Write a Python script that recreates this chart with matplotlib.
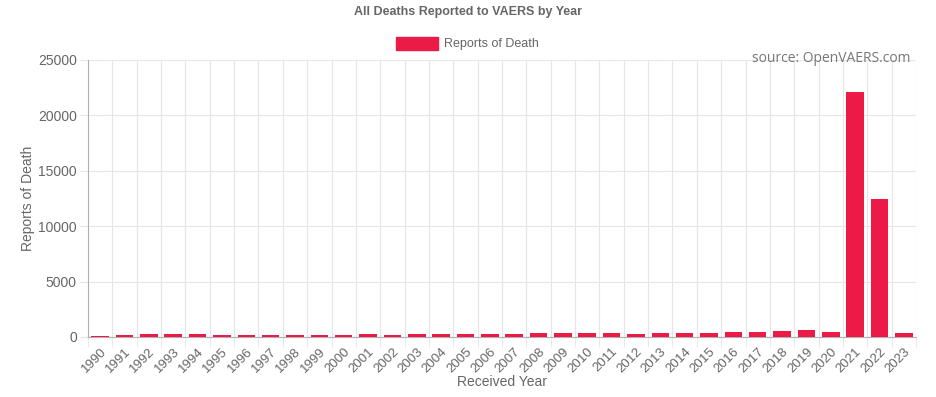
import matplotlib.pyplot as plt
import numpy as np

# Data
years = [str(y) for y in range(1990, 2024)]
deaths = [90, 200, 230, 240, 260, 170, 160, 190, 190, 200,
          220, 230, 200, 300, 230, 230, 230, 280, 350, 340,
          320, 330, 300, 330, 350, 360, 450, 450, 540, 630,
          450, 22100, 12450, 320]
y_ticks = [0, 5000, 10000, 15000, 20000, 25000]

bar_color = '#ec1a46'
text_color = '#666666'
grid_color = '#e6e6e6'

plt.rcParams['font.family'] = ['Liberation Sans', 'DejaVu Sans']

fig = plt.figure(figsize=(9.37, 3.97), dpi=100)
W, H = 937, 397
left, right, top, bottom = 88, 916, 60, 337
ax = fig.add_axes([left / W, 1 - bottom / H, (right - left) / W, (bottom - top) / H])

x = np.arange(len(years))
ax.bar(x, deaths, width=0.72, color=bar_color, zorder=3)

ax.set_xlim(-0.5, len(years) - 0.5)
ax.set_ylim(0, 25000)

# vertical grid at category boundaries
for b in np.arange(-0.5, len(years) + 0.5, 1):
    ax.axvline(b, color=grid_color, linewidth=0.8, zorder=1)
for t in y_ticks:
    ax.axhline(t, color=grid_color, linewidth=0.8, zorder=1)

ax.set_yticks(y_ticks)
ax.set_yticklabels([str(t) for t in y_ticks], fontsize=10, color=text_color)
ax.set_xticks(x)
ax.set_xticklabels(years, rotation=45, ha='right', rotation_mode='anchor',
                   fontsize=9.5, color=text_color)
ax.tick_params(axis='x', length=0, pad=6)
ax.tick_params(axis='y', length=6, color=grid_color, pad=2)

# boundary tick marks below x axis
ax.set_xticks(np.arange(-0.5, len(years) + 0.5, 1), minor=True)
ax.tick_params(axis='x', which='minor', length=7, color=grid_color)

for s in ['top', 'right']:
    ax.spines[s].set_visible(False)
for s in ['left', 'bottom']:
    ax.spines[s].set_color('#b0b0b0')
    ax.spines[s].set_linewidth(0.8)

ax.set_ylabel('Reports of Death', fontsize=10, color=text_color)
ax.yaxis.set_label_coords(-53 / (right - left), 0.5)
ax.set_xlabel('Received Year', fontsize=10, color=text_color, labelpad=0)

# title and legend
fig.text(0.5, 1 - 12 / H, 'All Deaths Reported to VAERS by Year', ha='center', va='center',
         fontsize=9, fontweight='bold', color=text_color)
fig.patches.append(plt.Rectangle((396 / W, 1 - 50 / H), 42 / W, 13 / H,
                                 transform=fig.transFigure, color=bar_color))
fig.text(444 / W, 1 - 43.5 / H, 'Reports of Death', ha='left', va='center',
         fontsize=9, color=text_color)

fig.text(911 / W, 1 - 59 / H, 'source: OpenVAERS.com', ha='right', va='center',
         fontsize=10, color='#777777', family=['Open Sans', 'DejaVu Sans'])

fig.savefig('out.png', dpi=100)
